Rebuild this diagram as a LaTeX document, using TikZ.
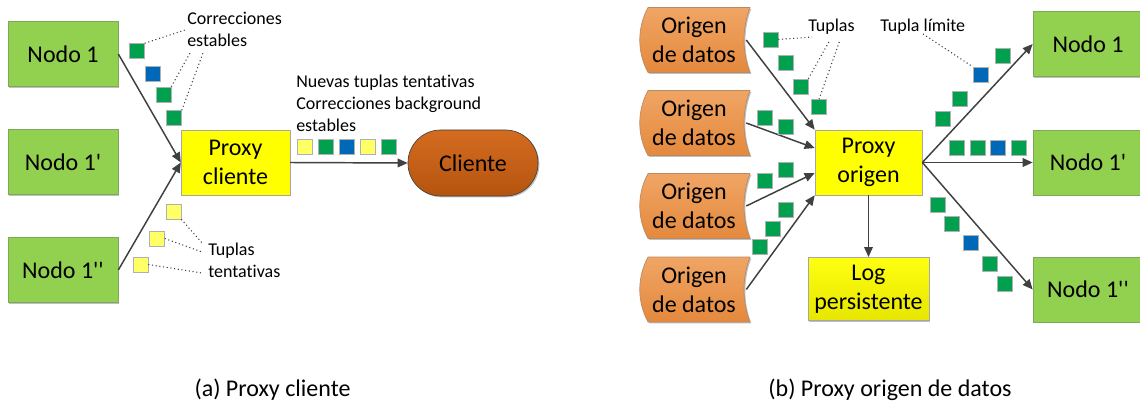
\documentclass[tikz,border=0pt]{standalone}
\usepackage{fontspec}
\setmainfont{Carlito}[Ligatures={TeXOff,NoCommon}]
\usetikzlibrary{arrows.meta,shadows,calc}

\definecolor{nodegreen}{HTML}{92D050}
\definecolor{nodeedge}{HTML}{7FA85A}
\definecolor{proxyyellow}{HTML}{FFFF00}
\definecolor{edgegray}{HTML}{A6A6A6}
\definecolor{conncol}{HTML}{404040}
\definecolor{sqgreen}{HTML}{00A04E}
\definecolor{sqblue}{HTML}{0068B8}
\definecolor{sqyellow}{HTML}{FFFF66}
\definecolor{sqedge}{HTML}{B0B0B0}
\definecolor{orgA}{HTML}{F0A565}
\definecolor{orgB}{HTML}{E4893D}
\definecolor{orgedge}{HTML}{B88A66}
\definecolor{clientA}{HTML}{D46C20}
\definecolor{clientB}{HTML}{B5540F}
\definecolor{logA}{HTML}{FFFF10}
\definecolor{logB}{HTML}{E6E600}

% stored-data outline with its text node on top
\newcommand\origenbox[2]{%
  \path[orgshape] (648,#2-32.5) -- (750,#2-32.5)
    .. controls (742,#2-12) and (742,#2+12) .. (750,#2+32.5)
    -- (648,#2+32.5)
    .. controls (637,#2+12) and (637,#2-12) .. (648,#2-32.5) -- cycle;
  \node[orgnode] (#1) at (694,#2) {Origen\\de datos};}

\begin{document}
\begin{tikzpicture}[x=0.75pt,y=-0.75pt,
  softshadow/.style={drop shadow={shadow xshift=1pt,shadow yshift=-1pt,opacity=0.25,fill=black}},
  box/.style={rectangle,inner sep=0pt,align=center,font=\fontsize{18}{21.6}\selectfont,line width=0.5pt,softshadow},
  nodo/.style={box,fill=nodegreen,draw=nodeedge,minimum width=82.5pt,minimum height=48.75pt},
  proxy/.style={box,fill=proxyyellow,draw=edgegray,minimum width=81.5pt,minimum height=48.75pt},
  logbox/.style={box,top color=logA,bottom color=logB,draw=edgegray,minimum width=90.75pt,minimum height=47.5pt},
  clientbox/.style={box,top color=clientA,bottom color=clientB,draw=conncol,rounded corners=24.5pt,minimum width=97.5pt,minimum height=49.5pt},
  orgshape/.style={top color=orgA,bottom color=orgB,draw=orgedge,line width=0.5pt,softshadow},
  orgnode/.style={inner sep=0pt,align=center,font=\fontsize{18}{21.6}\selectfont,minimum width=78pt,minimum height=48.75pt},
  tup/.style={rectangle,inner sep=0pt,minimum size=11.25pt,draw=sqedge,line width=0.4pt,
    drop shadow={shadow xshift=0.6pt,shadow yshift=-0.6pt,opacity=0.2,fill=black}},
  tg/.style={tup,fill=sqgreen},
  tb/.style={tup,fill=sqblue},
  ty/.style={tup,fill=sqyellow},
  lbl/.style={inner sep=0pt,align=left,font=\fontsize{13.5}{16.5}\selectfont},
  caption/.style={inner sep=0pt,font=\fontsize{18}{21.6}\selectfont},
  conn/.style={draw=conncol,line width=1.1pt,-{Triangle[length=7.5pt,width=6.5pt]}},
  hint/.style={draw=conncol,line width=0.8pt,dotted}]

\useasboundingbox (0,0) rectangle (1140,403);
\fill[white] (0,0) rectangle (1140,403);

% ---------------- (a) client proxy ----------------
\node[nodo] (a1)  at (63,54)  {Nodo 1};
\node[nodo] (a2)  at (63,162) {Nodo 1'};
\node[nodo] (a3)  at (63,270) {Nodo 1''};
\node[proxy] (pc) at (235.5,162.5) {Proxy\\cliente};
\node[clientbox] (cl) at (473,163) {Cliente};

\draw[conn] (a1.east) -- (pc.west);
\draw[conn] (a3.east) -- (pc.west);
\draw[conn] (pc.east) -- (cl.west);

% stable corrections arriving from Nodo 1
\node[tg] (ag1) at (137,51) {};
\node[tb] (ab1) at (152.5,73.5) {};
\node[tg] (ag2) at (163.5,94.5) {};
\node[tg] (ag3) at (174,118) {};
\node[lbl,anchor=north west] (lcorr) at (187,11.5) {Correcciones\\estables};
\coordinate (hc1) at (185,30);
\coordinate (hc2) at (190,53);
\coordinate (hc3) at (203,53);
\draw[hint] (ag1.north east) -- (hc1);
\draw[hint] (ag2.north east) -- (hc2);
\draw[hint] (ag3.north east) -- (hc3);

% tentative tuples arriving from Nodo 1''
\node[ty] (ay1) at (173.5,211.5) {};
\node[ty] (ay2) at (157,238.5) {};
\node[ty] (ay3) at (140.5,264.5) {};
\node[lbl,anchor=north west] (ltent) at (208,242.5) {Tuplas\\tentativas};
\coordinate (ht1) at (203,244);
\coordinate (ht2) at (202,252);
\coordinate (ht3) at (202,273);
\draw[hint] (ay1.south east) -- (ht1);
\draw[hint] (ay2.east) -- (ht2);
\draw[hint] (ay3.east) -- (ht3);

% outgoing stream towards the client
\node[lbl,anchor=north west] (lnew) at (296,74.5) {Nuevas tuplas tentativas\\Correcciones background\\estables};
\node[ty] (c1) at (304.5,146.5) {};
\node[tg] (c2) at (325.5,146.5) {};
\node[tb] (c3) at (346.5,146.5) {};
\node[ty] (c4) at (367.5,146.5) {};
\node[tg] (c5) at (388.5,146.5) {};

\node[caption,anchor=base] (capa) at (272.5,396) {(a) Proxy cliente};

% ---------------- (b) data source proxy ----------------
\origenbox{o1}{40}
\origenbox{o2}{123}
\origenbox{o3}{206}
\origenbox{o4}{289.5}

\node[proxy,minimum width=80.25pt] (po) at (868.5,162.5) {Proxy\\origen};
\node[logbox] (lg) at (868.5,289) {Log\\persistente};
\node[nodo] (b1) at (1088,44)    {Nodo 1};
\node[nodo] (b2) at (1088,162.5) {Nodo 1'};
\node[nodo] (b3) at (1088,289.5) {Nodo 1''};

\draw[conn] (o1.east) -- (po.north west);
\draw[conn] (o2.east) -- (po.165);
\draw[conn] (o3.east) -- (po.191);
\draw[conn] (o4.east) -- (po.south west);
\draw[conn] (po.south) -- (lg.north);
\draw[conn] (po.east) -- (b1.west);
\draw[conn] (po.east) -- (b2.west);
\draw[conn] (po.east) -- (b3.west);

% incoming tuples
\node[tg] (i1) at (770.5,39.5) {};
\node[tg] (i2) at (785.5,63) {};
\node[tg] (i3) at (800.5,86.5) {};
\node[tg] (i4) at (819,107) {};
\node[tg] (i5) at (764.5,117.5) {};
\node[tg] (i6) at (785.5,126.5) {};
\node[tg] (i7) at (764.5,180.5) {};
\node[tg] (i8) at (785.5,169.5) {};
\node[tg] (i9) at (785.5,209.5) {};
\node[tg] (i10) at (772.5,228.5) {};
\node[tg] (i11) at (759.5,247) {};

\node[lbl,anchor=base west] (ltup) at (808,32) {Tuplas};
\coordinate (hu1) at (812,37);
\coordinate (hu2) at (830,40);
\coordinate (hu3) at (840,40);
\draw[hint] (i1.east) -- (hu1);
\draw[hint] (i3.north east) -- (hu2);
\draw[hint] (i4.north) -- (hu3);

% outgoing tuples
\node[tg] (u1) at (1002.5,55.5) {};
\node[tb] (u2) at (980.5,74.5) {};
\node[tg] (u3) at (959.5,98.5) {};
\node[tg] (u4) at (943,118.5) {};
\node[tg] (m1) at (956.5,148) {};
\node[tg] (m2) at (977.5,148) {};
\node[tb] (m3) at (997.5,148) {};
\node[tg] (m4) at (1018.5,148) {};
\node[tg] (d1) at (937.5,204.5) {};
\node[tg] (d2) at (952,223.5) {};
\node[tb] (d3) at (970.5,243) {};
\node[tg] (d4) at (989.5,263.5) {};
\node[tg] (d5) at (1005,283.5) {};

\node[lbl,anchor=base west] (llim) at (880,32) {Tupla límite};
\coordinate (hl) at (923,34);
\draw[hint] (hl) -- (u2.north west);

\node[caption,anchor=base] (capb) at (890,396) {(b) Proxy origen de datos};
\end{tikzpicture}
\end{document}
